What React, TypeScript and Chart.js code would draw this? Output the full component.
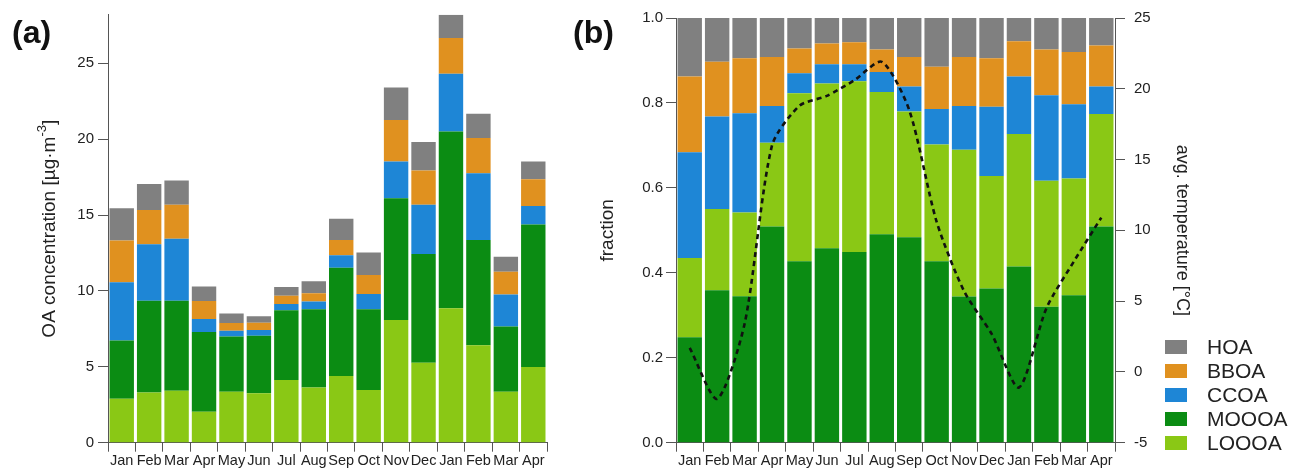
import React, { useEffect, useRef } from 'react';
import { Chart, registerables } from 'chart.js';

Chart.register(...registerables);

const FONT = "'Liberation Sans', Arial, Helvetica, sans-serif";

const MONTHS = ['Jan', 'Feb', 'Mar', 'Apr', 'May', 'Jun', 'Jul', 'Aug', 'Sep', 'Oct', 'Nov', 'Dec', 'Jan', 'Feb', 'Mar', 'Apr'];
const LEGEND_ORDER = ['HOA', 'BBOA', 'CCOA', 'MOOOA', 'LOOOA'];
const COLORS: Record<string, string> = {
  HOA: '#808080',
  BBOA: '#E0911F',
  CCOA: '#1E86D6',
  MOOOA: '#0B8C13',
  LOOOA: '#8AC815',
};

// (a) OA concentration [µg m-3]
const CONC_LOOOA = [2.90, 3.30, 3.43, 2.04, 3.36, 3.25, 4.13, 3.63, 4.40, 3.47, 8.09, 5.27, 8.86, 6.42, 3.36, 4.99];
const CONC_MOOOA = [3.83, 6.06, 5.93, 5.26, 3.63, 3.80, 4.60, 5.16, 7.12, 5.32, 8.02, 7.17, 11.65, 6.94, 4.29, 9.38];
const CONC_CCOA = [3.84, 3.72, 4.07, 0.85, 0.39, 0.38, 0.41, 0.51, 0.83, 1.01, 2.42, 3.23, 3.80, 4.40, 2.11, 1.23];
const CONC_BBOA = [2.75, 2.26, 2.24, 1.19, 0.51, 0.48, 0.55, 0.55, 1.01, 1.25, 2.74, 2.26, 2.35, 2.31, 1.51, 1.76];
const CONC_HOA = [2.13, 1.71, 1.60, 0.95, 0.62, 0.42, 0.57, 0.79, 1.39, 1.48, 2.14, 1.89, 1.54, 1.60, 0.99, 1.17];

// (b) fractions
const FRAC_MOOOA = [0.248, 0.359, 0.345, 0.509, 0.427, 0.458, 0.449, 0.491, 0.484, 0.427, 0.344, 0.363, 0.415, 0.320, 0.347, 0.509];
const FRAC_LOOOA = [0.187, 0.191, 0.197, 0.197, 0.396, 0.388, 0.402, 0.335, 0.296, 0.275, 0.346, 0.265, 0.312, 0.297, 0.275, 0.265];
const FRAC_CCOA = [0.249, 0.218, 0.234, 0.087, 0.047, 0.045, 0.040, 0.047, 0.059, 0.084, 0.103, 0.163, 0.135, 0.201, 0.175, 0.065];
const FRAC_BBOA = [0.178, 0.129, 0.129, 0.115, 0.058, 0.049, 0.052, 0.053, 0.069, 0.099, 0.115, 0.114, 0.083, 0.108, 0.123, 0.096];
const FRAC_HOA = [0.138, 0.103, 0.095, 0.092, 0.072, 0.060, 0.057, 0.074, 0.092, 0.115, 0.092, 0.095, 0.055, 0.074, 0.080, 0.065];

// average temperature [°C]
const TEMP = [1.7, -1.9, 3.4, 16.0, 18.8, 19.5, 20.6, 21.9, 18.5, 10.6, 5.7, 2.7, -1.1, 4.5, 7.8, 10.9];

const TICK_COLOR = '#222';
const AXIS_COLOR = '#555';

function barSet(label: string, data: number[]) {
  return {
    type: 'bar' as const,
    label,
    data,
    backgroundColor: COLORS[label],
    borderWidth: 0,
    barPercentage: 1,
    categoryPercentage: 0.89,
    yAxisID: 'y',
    order: 1,
  };
}

function xScale() {
  return {
    stacked: true,
    grid: { drawOnChartArea: false, offset: true, tickLength: 9, color: AXIS_COLOR, lineWidth: 1 },
    border: { display: true, color: AXIS_COLOR, width: 1 },
    ticks: {
      font: { family: FONT, size: 14.5 },
      color: TICK_COLOR,
      autoSkip: false,
      maxRotation: 0,
      minRotation: 0,
      padding: 1,
    },
    afterFit: (s: any) => {
      s.height = 25.3;
    },
  };
}

const panelLabel = (text: string, x: number, y: number) => ({
  id: 'panelLabel' + text,
  afterDraw(chart: any) {
    const ctx = chart.ctx;
    ctx.save();
    ctx.font = `bold 32px ${FONT}`;
    ctx.fillStyle = '#111';
    ctx.textAlign = 'left';
    ctx.textBaseline = 'alphabetic';
    ctx.fillText(text, x, y);
    ctx.restore();
  },
});

const concTitle = {
  id: 'concTitle',
  afterDraw(chart: any) {
    const ctx = chart.ctx;
    const { top, bottom } = chart.chartArea;
    ctx.save();
    ctx.translate(50, (top + bottom) / 2);
    ctx.rotate(-Math.PI / 2);
    ctx.fillStyle = '#222';
    ctx.textBaseline = 'middle';
    ctx.textAlign = 'left';
    const main = 'OA concentration [µg·m';
    const sup = '-3';
    const end = ']';
    ctx.font = `19px ${FONT}`;
    const w1 = ctx.measureText(main).width;
    const w3 = ctx.measureText(end).width;
    ctx.font = `13px ${FONT}`;
    const w2 = ctx.measureText(sup).width;
    const total = w1 + w2 + w3;
    let x = -total / 2;
    ctx.font = `19px ${FONT}`;
    ctx.fillText(main, x, 0);
    x += w1;
    ctx.font = `13px ${FONT}`;
    ctx.fillText(sup, x, -8);
    x += w2;
    ctx.font = `19px ${FONT}`;
    ctx.fillText(end, x, 0);
    ctx.restore();
  },
};

const legendPlugin = {
  id: 'customLegend',
  afterDraw(chart: any) {
    const ctx = chart.ctx;
    ctx.save();
    ctx.font = `21px ${FONT}`;
    ctx.textBaseline = 'middle';
    ctx.textAlign = 'left';
    LEGEND_ORDER.forEach((name, i) => {
      const ds = chart.data.datasets.find((d: any) => d.label === name);
      const cy = 347 + i * 24;
      ctx.fillStyle = ds ? ds.backgroundColor : COLORS[name];
      ctx.fillRect(605, cy - 7, 22, 14);
      ctx.fillStyle = '#222';
      ctx.fillText(name, 647, cy + 1);
    });
    ctx.restore();
  },
};

export default function App() {
  const refA = useRef<HTMLCanvasElement>(null);
  const refB = useRef<HTMLCanvasElement>(null);

  useEffect(() => {
    const chartA = new Chart(refA.current as HTMLCanvasElement, {
      type: 'bar',
      data: {
        labels: MONTHS,
        datasets: [
          barSet('LOOOA', CONC_LOOOA),
          barSet('MOOOA', CONC_MOOOA),
          barSet('CCOA', CONC_CCOA),
          barSet('BBOA', CONC_BBOA),
          barSet('HOA', CONC_HOA),
        ] as any,
      },
      options: {
        animation: false,
        responsive: false,
        devicePixelRatio: 1,
        layout: { padding: { top: 14.7, right: 13, left: 0, bottom: 0 } },
        plugins: { legend: { display: false }, tooltip: { enabled: false } },
        scales: {
          x: xScale() as any,
          y: {
            stacked: true,
            min: 0,
            max: 28.2,
            ticks: {
              stepSize: 5,
              includeBounds: false,
              font: { family: FONT, size: 15 },
              color: TICK_COLOR,
              padding: 4,
            },
            grid: { drawOnChartArea: false, tickLength: 10, color: AXIS_COLOR },
            border: { display: true, color: AXIS_COLOR },
            afterFit: (s: any) => {
              s.width = 108;
            },
          } as any,
        },
      },
      plugins: [panelLabel('(a)', 12, 43), concTitle],
    });

    const chartB = new Chart(refB.current as HTMLCanvasElement, {
      type: 'bar',
      data: {
        labels: MONTHS,
        datasets: [
          {
            type: 'line',
            label: 'avg. temperature',
            data: TEMP,
            yAxisID: 'y2',
            borderColor: '#111',
            borderWidth: 2.6,
            borderDash: [5, 4],
            pointRadius: 0,
            tension: 0.25,
            fill: false,
            order: 0,
          },
          barSet('MOOOA', FRAC_MOOOA),
          barSet('LOOOA', FRAC_LOOOA),
          barSet('CCOA', FRAC_CCOA),
          barSet('BBOA', FRAC_BBOA),
          barSet('HOA', FRAC_HOA),
        ] as any,
      },
      options: {
        animation: false,
        responsive: false,
        devicePixelRatio: 1,
        layout: { padding: { top: 15, right: 0, left: 0, bottom: 0 } },
        plugins: { legend: { display: false }, tooltip: { enabled: false } },
        scales: {
          x: xScale() as any,
          y: {
            stacked: true,
            position: 'left',
            min: 0,
            max: 1,
            ticks: {
              stepSize: 0.2,
              font: { family: FONT, size: 15 },
              color: TICK_COLOR,
              padding: 3,
              callback: (v: any) => Number(v).toFixed(1),
            },
            grid: { drawOnChartArea: false, tickLength: 10, color: AXIS_COLOR },
            border: { display: true, color: AXIS_COLOR },
            title: {
              display: true,
              text: 'fraction',
              font: { family: FONT, size: 19 },
              color: '#222',
              padding: { top: 36.6, bottom: 0 },
            },
            afterFit: (s: any) => {
              s.width = 116;
            },
          } as any,
          y2: {
            position: 'right',
            min: -5,
            max: 25,
            ticks: {
              stepSize: 5,
              font: { family: FONT, size: 15 },
              color: TICK_COLOR,
              padding: 9,
            },
            grid: { drawOnChartArea: false, tickLength: 10, color: AXIS_COLOR },
            border: { display: true, color: AXIS_COLOR },
            title: {
              display: true,
              text: 'avg. temperature [°C]',
              font: { family: FONT, size: 18 },
              color: '#222',
              padding: { top: 100, bottom: 0 },
            },
            afterFit: (s: any) => {
              s.width = 178;
            },
          } as any,
        },
      },
      plugins: [panelLabel('(b)', 13, 43), legendPlugin],
    });

    return () => {
      chartA.destroy();
      chartB.destroy();
    };
  }, []);

  return (
    <div style={{ position: 'fixed', left: 0, top: 0, width: 1293, height: 468, background: '#fff', overflow: 'hidden' }}>
      <canvas ref={refA} width={560} height={468} style={{ position: 'absolute', left: 0, top: 0, width: 560, height: 468 }} />
      <canvas ref={refB} width={733} height={468} style={{ position: 'absolute', left: 560, top: 0, width: 733, height: 468 }} />
    </div>
  );
}
